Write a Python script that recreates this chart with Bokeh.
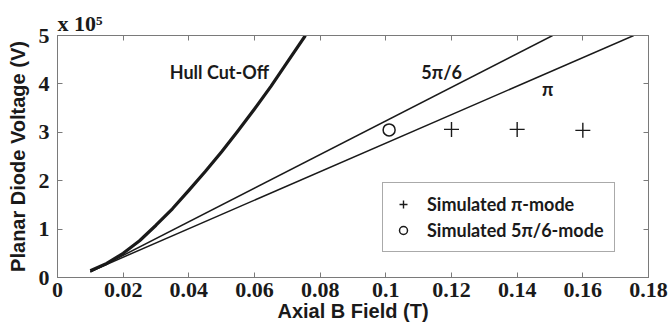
from bokeh.plotting import figure
from bokeh.models import (Range1d, FixedTicker, LinearAxis, Label, Legend, LegendItem)
from bokeh.embed import file_html
from bokeh.resources import INLINE

# ---- data (voltage in units of 1e5 V) ----
hull_b = [0.010, 0.015, 0.020, 0.025, 0.030, 0.035, 0.040, 0.045, 0.050, 0.055,
          0.060, 0.065, 0.070, 0.0755]
hull_v = [0.14, 0.29, 0.50, 0.76, 1.08, 1.42, 1.80, 2.19, 2.60, 3.03,
          3.48, 3.95, 4.45, 5.00]

bh_56_b = [0.010, 0.1508]
bh_56_v = [0.11, 5.00]

bh_pi_b = [0.010, 0.1755]
bh_pi_v = [0.125, 5.00]

sim_pi_b = [0.12, 0.14, 0.16]
sim_pi_v = [3.06, 3.06, 3.04]

sim_56_b = [0.101]
sim_56_v = [3.05]

x_ticks = [0, 0.02, 0.04, 0.06, 0.08, 0.10, 0.12, 0.14, 0.16, 0.18]
x_tick_labels = ["0", "0.02", "0.04", "0.06", "0.08", "0.1", "0.12", "0.14", "0.16", "0.18"]
y_ticks = [0, 1, 2, 3, 4, 5]
y_tick_labels = ["0", "1", "2", "3", "4", "5"]

SERIF = "Liberation Serif"
SANS = "Liberation Sans"
CAL = "Lato"
INK = "#1a1a1a"
AX = "#7a7a7a"

p = figure(width=671, height=330, output_backend="svg", toolbar_location=None,
           x_range=Range1d(0, 0.18), y_range=Range1d(0, 5),
           x_axis_location=None, y_axis_location=None,
           min_border_left=57, min_border_right=23, min_border_top=35, min_border_bottom=53)
p.grid.visible = False
p.outline_line_color = AX
p.outline_line_width = 1
p.background_fill_color = "white"
p.border_fill_color = "white"

p.title.text = "x 10\u2075"
p.title.align = "left"
p.title.offset = 0
p.title.standoff = 0
p.title.text_font = SERIF
p.title.text_font_style = "bold"
p.title.text_font_size = "22px"
p.title.text_color = INK

def style_axis(ax, labels):
    ax.axis_line_color = AX
    ax.major_tick_line_color = AX
    ax.minor_tick_line_color = None
    ax.major_tick_in = 5
    ax.major_tick_out = 0
    if labels:
        ax.major_label_text_font = SERIF
        ax.major_label_text_font_style = "bold"
        ax.major_label_text_font_size = "22px"
        ax.major_label_text_color = INK
        ax.axis_label_text_font = SANS
        ax.axis_label_text_font_style = "bold"
        ax.axis_label_text_font_size = "20px"
        ax.axis_label_text_color = INK
    else:
        ax.major_label_text_font_size = "1px"
        ax.major_label_text_alpha = 0
        ax.major_label_standoff = 0

xb = LinearAxis(ticker=FixedTicker(ticks=x_ticks),
                major_label_overrides={t: s for t, s in zip(x_ticks, x_tick_labels)},
                axis_label="Axial B Field (T)")
style_axis(xb, True)
xb.major_label_standoff = 5
xb.axis_label_standoff = 0
p.add_layout(xb, "below")

yl = LinearAxis(ticker=FixedTicker(ticks=y_ticks),
                major_label_overrides={t: s for t, s in zip(y_ticks, y_tick_labels)},
                axis_label="Planar Diode Voltage (V)")
style_axis(yl, True)
yl.major_label_standoff = 8
yl.axis_label_standoff = 7
yl.major_label_orientation = "horizontal"
p.add_layout(yl, "left")

xt = LinearAxis(ticker=FixedTicker(ticks=x_ticks))
style_axis(xt, False)
p.add_layout(xt, "above")
yr = LinearAxis(ticker=FixedTicker(ticks=y_ticks))
style_axis(yr, False)
p.add_layout(yr, "right")

# curves
p.line(hull_b, hull_v, line_color=INK, line_width=3.2, line_join="round")
p.line(bh_56_b, bh_56_v, line_color=INK, line_width=1.5)
p.line(bh_pi_b, bh_pi_v, line_color=INK, line_width=1.5)

r_pi = p.scatter(sim_pi_b, sim_pi_v, marker="cross", size=15, line_color=INK, line_width=1.4)
r_56 = p.scatter(sim_56_b, sim_56_v, marker="circle", size=12, line_color=INK,
                 line_width=1.5, fill_color=None)

legend = Legend(items=[LegendItem(label="Simulated \u03c0-mode", renderers=[r_pi]),
                       LegendItem(label="Simulated 5\u03c0/6-mode", renderers=[r_56])],
                location=(325, 25))
legend.label_text_font = CAL
legend.label_text_font_style = "bold"
legend.label_text_font_size = "18px"
legend.label_text_color = INK
legend.border_line_color = "#555555"
legend.border_line_width = 1
legend.background_fill_color = "white"
legend.background_fill_alpha = 1
legend.padding = 10
legend.spacing = 4
legend.glyph_width = 20
legend.glyph_height = 20
legend.label_height = 20
legend.label_standoff = 14
legend.margin = 0
p.add_layout(legend, "center")

# annotations
for txt, bx, vy in [("Hull Cut-Off", 0.0493, 4.24), ("5\u03c0/6", 0.117, 4.24), ("\u03c0", 0.1493, 3.90)]:
    p.add_layout(Label(x=bx, y=vy, text=txt, text_font=CAL, text_font_style="bold",
                       text_font_size="18px", text_color=INK,
                       text_align="center", text_baseline="middle"))

open("out.html", "w").write(file_html(p, INLINE))
